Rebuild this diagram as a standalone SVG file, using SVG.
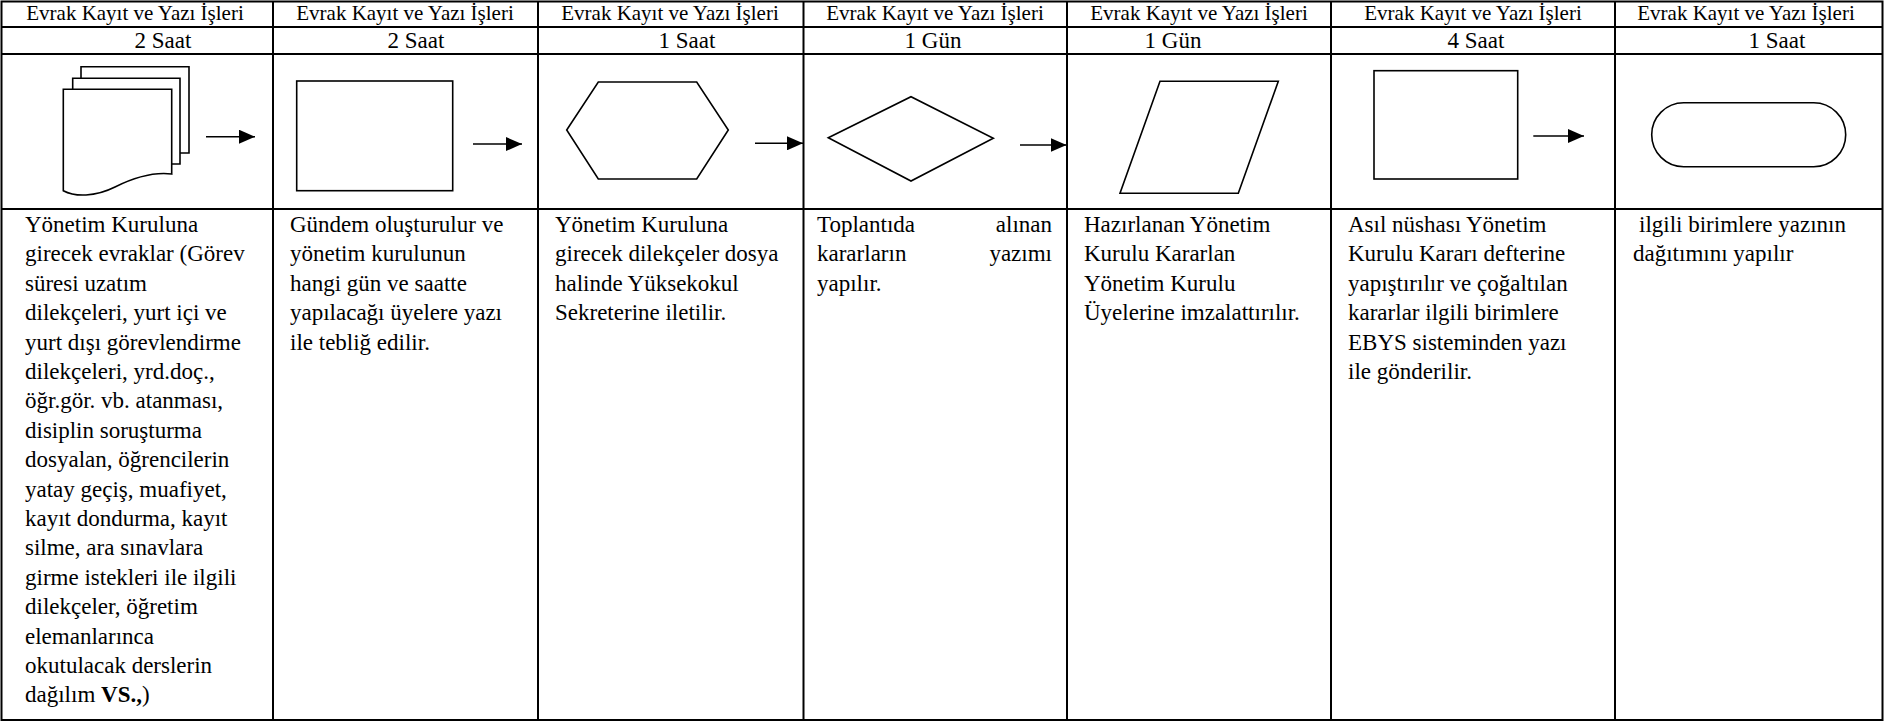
<svg xmlns="http://www.w3.org/2000/svg" width="1885" height="722" viewBox="0 0 1885 722">
<style>
.grid{stroke:#000;stroke-width:2;fill:none}
.shape{stroke:#000;stroke-width:1.6;fill:#fff}
.conn{stroke:#000;stroke-width:1.6;fill:none}
.hdr{font-family:"Liberation Serif","Times New Roman",serif;font-size:21px;fill:#000;text-anchor:middle}
.dur{font-family:"Liberation Serif","Times New Roman",serif;font-size:23px;fill:#000;text-anchor:middle}
.txt{font-family:"Liberation Serif","Times New Roman",serif;font-size:23px;fill:#000}
</style>
<defs>
<marker id="ah" markerWidth="16" markerHeight="14" refX="16" refY="7" orient="auto" markerUnits="userSpaceOnUse" viewBox="0 0 16 14">
<path d="M0,0 L16,7 L0,14 Z" fill="#000"/>
</marker>
</defs>
<rect x="0" y="0" width="1885" height="722" fill="#fff"/>
<g id="table">
<rect class="grid" x="1.5" y="1.5" width="1881" height="718.5"/>
<line class="grid" x1="1.5" y1="27" x2="1882.5" y2="27"/>
<line class="grid" x1="1.5" y1="54" x2="1882.5" y2="54"/>
<line class="grid" x1="1.5" y1="209" x2="1882.5" y2="209"/>
<line class="grid" x1="273" y1="1.5" x2="273" y2="720"/>
<line class="grid" x1="538" y1="1.5" x2="538" y2="720"/>
<line class="grid" x1="803.5" y1="1.5" x2="803.5" y2="720"/>
<line class="grid" x1="1067" y1="1.5" x2="1067" y2="720"/>
<line class="grid" x1="1331" y1="1.5" x2="1331" y2="720"/>
<line class="grid" x1="1615" y1="1.5" x2="1615" y2="720"/>
</g>
<g id="col1">
<text class="hdr" x="135" y="20">Evrak Kayıt ve Yazı İşleri</text>
<text class="dur" x="163" y="48">2 Saat</text>
<path class="shape" d="M81,78 V66.7 H189 V153 H180"/>
<path class="shape" d="M72.7,89 V78.3 H180 V164 H171.7"/>
<path class="shape" d="M63.3,89.3 H171.7 V174 C155,172 135,177 115,187 C95,197 75,197 63.3,190.7 Z"/>
<text class="txt" x="25" y="232">
<tspan x="25" dy="0">Yönetim Kuruluna</tspan>
<tspan x="25" dy="29.4">girecek evraklar (Görev</tspan>
<tspan x="25" dy="29.4">süresi uzatım</tspan>
<tspan x="25" dy="29.4">dilekçeleri, yurt içi ve</tspan>
<tspan x="25" dy="29.4">yurt dışı görevlendirme</tspan>
<tspan x="25" dy="29.4">dilekçeleri, yrd.doç.,</tspan>
<tspan x="25" dy="29.4">öğr.gör. vb. atanması,</tspan>
<tspan x="25" dy="29.4">disiplin soruşturma</tspan>
<tspan x="25" dy="29.4">dosyalan, öğrencilerin</tspan>
<tspan x="25" dy="29.4">yatay geçiş, muafiyet,</tspan>
<tspan x="25" dy="29.4">kayıt dondurma, kayıt</tspan>
<tspan x="25" dy="29.4">silme, ara sınavlara</tspan>
<tspan x="25" dy="29.4">girme istekleri ile ilgili</tspan>
<tspan x="25" dy="29.4">dilekçeler, öğretim</tspan>
<tspan x="25" dy="29.4">elemanlarınca</tspan>
<tspan x="25" dy="29.4">okutulacak derslerin</tspan>
<tspan x="25" dy="29.4">dağılım <tspan font-weight="bold">VS.,</tspan>)</tspan>
</text>
</g>
<g id="col2">
<text class="hdr" x="405" y="20">Evrak Kayıt ve Yazı İşleri</text>
<text class="dur" x="416" y="48">2 Saat</text>
<rect class="shape" x="296.7" y="81" width="156" height="109.7"/>
<text class="txt" x="290" y="232">
<tspan x="290" dy="0">Gündem oluşturulur ve</tspan>
<tspan x="290" dy="29.4">yönetim kurulunun</tspan>
<tspan x="290" dy="29.4">hangi gün ve saatte</tspan>
<tspan x="290" dy="29.4">yapılacağı üyelere yazı</tspan>
<tspan x="290" dy="29.4">ile tebliğ edilir.</tspan>
</text>
</g>
<g id="col3">
<text class="hdr" x="670" y="20">Evrak Kayıt ve Yazı İşleri</text>
<text class="dur" x="687" y="48">1 Saat</text>
<polygon class="shape" points="566.7,130 598.3,82 696.7,82 728.3,130 696.7,179 598.3,179"/>
<text class="txt" x="555" y="232">
<tspan x="555" dy="0">Yönetim Kuruluna</tspan>
<tspan x="555" dy="29.4">girecek dilekçeler dosya</tspan>
<tspan x="555" dy="29.4">halinde Yüksekokul</tspan>
<tspan x="555" dy="29.4">Sekreterine iletilir.</tspan>
</text>
</g>
<g id="col4">
<text class="hdr" x="935" y="20">Evrak Kayıt ve Yazı İşleri</text>
<text class="dur" x="933" y="48">1 Gün</text>
<polygon class="shape" points="828.3,137.7 911,96.7 993.3,138.3 911,181"/>
<text class="txt" x="817" y="232">Toplantıda</text>
<text class="txt" x="1052" y="232" text-anchor="end">alınan</text>
<text class="txt" x="817" y="261.4">kararların</text>
<text class="txt" x="1052" y="261.4" text-anchor="end">yazımı</text>
<text class="txt" x="817" y="290.8">yapılır.</text>
</g>
<g id="col5">
<text class="hdr" x="1199" y="20">Evrak Kayıt ve Yazı İşleri</text>
<text class="dur" x="1173" y="48">1 Gün</text>
<polygon class="shape" points="1160,81.3 1278.3,81.3 1238.3,193.3 1120,193.3"/>
<text class="txt" x="1084" y="232">
<tspan x="1084" dy="0">Hazırlanan Yönetim</tspan>
<tspan x="1084" dy="29.4">Kurulu Kararlan</tspan>
<tspan x="1084" dy="29.4">Yönetim Kurulu</tspan>
<tspan x="1084" dy="29.4">Üyelerine imzalattırılır.</tspan>
</text>
</g>
<g id="col6">
<text class="hdr" x="1473" y="20">Evrak Kayıt ve Yazı İşleri</text>
<text class="dur" x="1476" y="48">4 Saat</text>
<rect class="shape" x="1374" y="70.7" width="143.7" height="108.3"/>
<text class="txt" x="1348" y="232">
<tspan x="1348" dy="0">Asıl nüshası Yönetim</tspan>
<tspan x="1348" dy="29.4">Kurulu Kararı defterine</tspan>
<tspan x="1348" dy="29.4">yapıştırılır ve çoğaltılan</tspan>
<tspan x="1348" dy="29.4">kararlar ilgili birimlere</tspan>
<tspan x="1348" dy="29.4">EBYS sisteminden yazı</tspan>
<tspan x="1348" dy="29.4">ile gönderilir.</tspan>
</text>
</g>
<g id="col7">
<text class="hdr" x="1746" y="20">Evrak Kayıt ve Yazı İşleri</text>
<text class="dur" x="1777" y="48">1 Saat</text>
<rect class="shape" x="1651.7" y="102.7" width="194" height="64" rx="32" ry="32"/>
<text class="txt" x="1639" y="232">ilgili birimlere yazının</text>
<text class="txt" x="1633" y="261.4">dağıtımını yapılır</text>
</g>
<g id="connectors">
<line class="conn" x1="206" y1="136.7" x2="255" y2="136.7" marker-end="url(#ah)"/>
<line class="conn" x1="473" y1="144" x2="522" y2="144" marker-end="url(#ah)"/>
<line class="conn" x1="755" y1="143.3" x2="803" y2="143.3" marker-end="url(#ah)"/>
<line class="conn" x1="1020" y1="145" x2="1066.5" y2="145" marker-end="url(#ah)"/>
<line class="conn" x1="1533.3" y1="136" x2="1584" y2="136" marker-end="url(#ah)"/>
</g>
</svg>
